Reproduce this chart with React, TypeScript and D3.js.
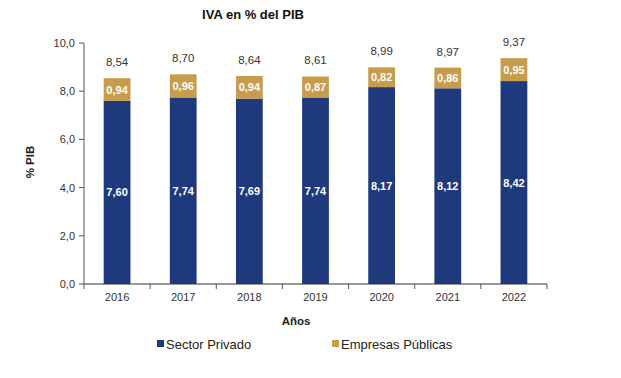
import React from "react";
import * as d3 from "d3";

const years = ["2016", "2017", "2018", "2019", "2020", "2021", "2022"];
const privado = [7.6, 7.74, 7.69, 7.74, 8.17, 8.12, 8.42];
const publicas = [0.94, 0.96, 0.94, 0.87, 0.82, 0.86, 0.95];
const totals = [8.54, 8.7, 8.64, 8.61, 8.99, 8.97, 9.37];
const yTicks = [0, 2, 4, 6, 8, 10];

const W = 621, H = 378;
const NAVY = "#1f3a7c";
const GOLD = "#c79c4c";
const FONT = "Liberation Sans, Arial, sans-serif";
const fmt = (v: number, d: number) => v.toFixed(d).replace(".", ",");

export default function App() {
  const x = d3.scaleBand<string>().domain(years).range([84, 547]).paddingInner(0.595).paddingOuter(0.2975);
  const y = d3.scaleLinear().domain([0, 10]).range([284, 43]);
  const bands = d3.scaleBand<string>().domain(years).range([84, 547]);
  const tickXs = [...years.map((yr) => bands(yr) as number), 547];

  return (
    <svg width={W} height={H} style={{ position: "absolute", left: 0, top: 0, background: "#fff" }} fontFamily={FONT}>
      <text x={253} y={19} textAnchor="middle" fontSize={13} fontWeight="bold" fill="#111">IVA en % del PIB</text>
      {/* bars */}
      {years.map((yr, i) => {
        const bx = x(yr) as number;
        const bw = x.bandwidth();
        const cx = bx + bw / 2;
        return (
          <g key={yr}>
            <rect x={bx} y={y(privado[i])} width={bw} height={y(0) - y(privado[i])} fill={NAVY} />
            <rect x={bx} y={y(privado[i] + publicas[i])} width={bw} height={y(privado[i]) - y(privado[i] + publicas[i])} fill={GOLD} />
            <text x={cx} y={y(privado[i] / 2) + 4} textAnchor="middle" fontSize={11} fontWeight="bold" fill="#fff">{fmt(privado[i], 2)}</text>
            <text x={cx} y={y(privado[i] + publicas[i] / 2) + 4} textAnchor="middle" fontSize={11} fontWeight="bold" fill="#fff">{fmt(publicas[i], 2)}</text>
            <text x={cx} y={y(totals[i]) - 12} textAnchor="middle" fontSize={11.5} fill="#333">{fmt(totals[i], 2)}</text>
          </g>
        );
      })}
      {/* y axis */}
      <line x1={84} x2={84} y1={43} y2={284} stroke="#555" />
      {yTicks.map((t) => (
        <g key={t}>
          <line x1={79} x2={84} y1={y(t)} y2={y(t)} stroke="#555" />
          <text x={75} y={y(t) + 4} textAnchor="end" fontSize={11} fill="#333">{fmt(t, 1)}</text>
        </g>
      ))}
      {/* x axis */}
      <line x1={84} x2={547} y1={284} y2={284} stroke="#333" />
      {tickXs.map((tx, i) => (
        <line key={i} x1={tx} x2={tx} y1={284} y2={289} stroke="#555" />
      ))}
      {years.map((yr) => (
        <text key={yr} x={(bands(yr) as number) + bands.bandwidth() / 2} y={301} textAnchor="middle" fontSize={11} fill="#333">{yr}</text>
      ))}
      <text x={296} y={325} textAnchor="middle" fontSize={11.5} fontWeight="bold" fill="#222">Años</text>
      <text transform="translate(34,162) rotate(-90)" textAnchor="middle" fontSize={11.5} fontWeight="bold" fill="#222">% PIB</text>
      {/* legend */}
      <rect x={157} y={340} width={7} height={7} fill={NAVY} />
      <text x={166} y={348.5} fontSize={13} fill="#222">Sector Privado</text>
      <rect x={332} y={340} width={7} height={7} fill={GOLD} />
      <text x={341} y={348.5} fontSize={13} fill="#222">Empresas Públicas</text>
    </svg>
  );
}
